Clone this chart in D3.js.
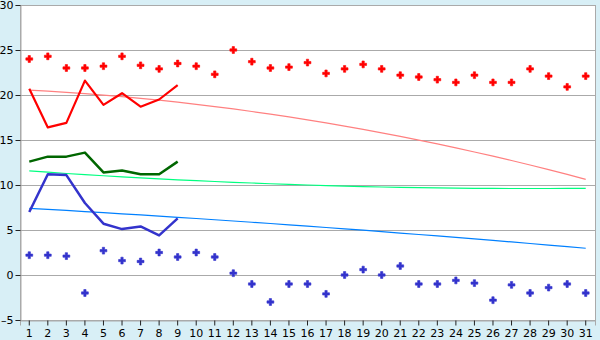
<!DOCTYPE html>
<html>
<head>
<meta charset="utf-8">
<script src="https://cdn.jsdelivr.net/npm/d3@7"></script>
<style>
    html, body { margin: 0; padding: 0; background: #d8eff6; }
    svg { display: block; }
    .tick text { font-family: "DejaVu Sans", Verdana, sans-serif; font-size: 11px; fill: #000; }
</style>
</head>
<body>
<div id="chart"></div>
<script>
/*jslint browser: true*/

var days = d3.range(1, 32);
var yTicks = [-5, 0, 5, 10, 15, 20, 25, 30];

// upper / lower daily points
var redPoints = [24.0, 24.3, 23.0, 23.0, 23.2, 24.3, 23.3, 22.9, 23.5, 23.2,
    22.3, 25.0, 23.7, 23.0, 23.1, 23.6, 22.4, 22.9, 23.4, 22.9, 22.2,
    22.0, 21.7, 21.4, 22.2, 21.4, 21.4, 22.9, 22.1, 20.9, 22.1];
var bluePoints = [2.2, 2.2, 2.1, -2.0, 2.7, 1.6, 1.5, 2.5, 2.0, 2.5,
    2.0, 0.2, -1.0, -3.0, -1.0, -1.0, -2.1, 0.0, 0.6, 0.0, 1.0,
    -1.0, -1.0, -0.6, -0.9, -2.8, -1.1, -2.0, -1.4, -1.0, -2.0];

// first nine days
var redLine = [20.7, 16.4, 16.9, 21.6, 18.9, 20.2, 18.7, 19.5, 21.1];
var greenLine = [12.6, 13.15, 13.15, 13.6, 11.4, 11.6, 11.2, 11.2, 12.6];
var blueLine = [7.0, 11.2, 11.1, 8.0, 5.7, 5.1, 5.4, 4.4, 6.3];

// trend curves
var redTrend = [20.55, 20.43, 20.30, 20.15, 19.99, 19.81, 19.62, 19.42, 19.20, 18.96,
    18.71, 18.45, 18.17, 17.87, 17.56, 17.24, 16.90, 16.55, 16.18, 15.80,
    15.40, 14.99, 14.57, 14.13, 13.67, 13.20, 12.72, 12.22, 11.70, 11.18, 10.63];
var greenTrend = [11.56, 11.42, 11.28, 11.15, 11.03, 10.91, 10.79, 10.68, 10.58, 10.48,
    10.39, 10.30, 10.22, 10.14, 10.07, 10.00, 9.94, 9.88, 9.83, 9.78,
    9.74, 9.71, 9.68, 9.65, 9.63, 9.62, 9.61, 9.61, 9.61, 9.62, 9.63];
var blueTrend = [7.41, 7.29, 7.17, 7.05, 6.93, 6.80, 6.68, 6.55, 6.41, 6.28,
    6.14, 6.00, 5.86, 5.72, 5.58, 5.43, 5.28, 5.13, 4.98, 4.82,
    4.66, 4.50, 4.34, 4.18, 4.01, 3.84, 3.67, 3.50, 3.33, 3.15, 2.97];

(function (d3) {
    'use strict';

    var width = 600, height = 340,
        left = 20, right = 595, top = 5, bottom = 320;

    var svg = d3.select('#chart').append('svg')
        .attr('width', width)
        .attr('height', height);

    var x = d3.scaleBand().domain(days).range([left, right]).padding(0);
    var y = d3.scaleLinear().domain([-5, 30]).range([bottom, top]);
    var cx = function (d, i) { return x(days[i]) + x.bandwidth() / 2; };

    svg.append('rect')
        .attr('x', left + 0.5).attr('y', top + 0.5)
        .attr('width', right - left).attr('height', bottom - top)
        .style('fill', '#fff')
        .style('stroke', '#aaa');

    svg.append('g').selectAll('line')
        .data(yTicks.slice(1, -1)).enter()
      .append('line')
        .attr('x1', left).attr('x2', right)
        .attr('y1', function (d) { return Math.round(y(d)) + 0.5; })
        .attr('y2', function (d) { return Math.round(y(d)) + 0.5; })
        .style('stroke', '#aaa');

    var xAxis = svg.append('g')
        .attr('transform', 'translate(0,' + (bottom + 0.5) + ')')
        .call(d3.axisBottom(x).tickSize(5).tickPadding(4));
    xAxis.select('.domain').style('stroke', '#aaa');
    xAxis.selectAll('.tick line').style('stroke', '#222');

    var yAxis = svg.append('g')
        .attr('transform', 'translate(' + (left + 0.5) + ',0)')
        .call(d3.axisLeft(y).tickValues(yTicks).tickSize(5).tickPadding(2)
            .tickFormat(function (d) { return d < 0 ? '\u2013' + (-d) : d; }));
    yAxis.select('.domain').style('stroke', '#aaa');
    yAxis.selectAll('.tick line').style('stroke', '#222');

    var line = d3.line()
        .x(cx)
        .y(function (d) { return y(d); });

    function trend(data, color) {
        svg.append('path')
            .datum(data)
            .attr('d', line)
            .style('fill', 'none')
            .style('stroke', color)
            .style('stroke-width', 1.2);
    }

    function series(data, color, w) {
        svg.append('path')
            .datum(data)
            .attr('d', line)
            .style('fill', 'none')
            .style('stroke', color)
            .style('stroke-width', w)
            .style('stroke-linejoin', 'round');
    }

    function points(data, color) {
        svg.append('g').selectAll('path')
            .data(data).enter()
          .append('path')
            .attr('transform', function (d, i) { return 'translate(' + cx(d, i) + ',' + y(d) + ')'; })
            .attr('d', d3.symbol().type(d3.symbolCross).size(26))
            .style('fill', color)
            .style('stroke', color)
            .style('stroke-width', 0.6);
    }

    trend(redTrend, '#ff8080');
    trend(greenTrend, '#00ff80');
    trend(blueTrend, '#0080ff');

    series(redLine, '#ff0000', 2.2);
    series(greenLine, '#006600', 2.5);
    series(blueLine, '#3333cc', 2.5);

    points(redPoints, '#ff0000');
    points(bluePoints, '#3333cc');

}(window.d3));
</script>
</body>
</html>
